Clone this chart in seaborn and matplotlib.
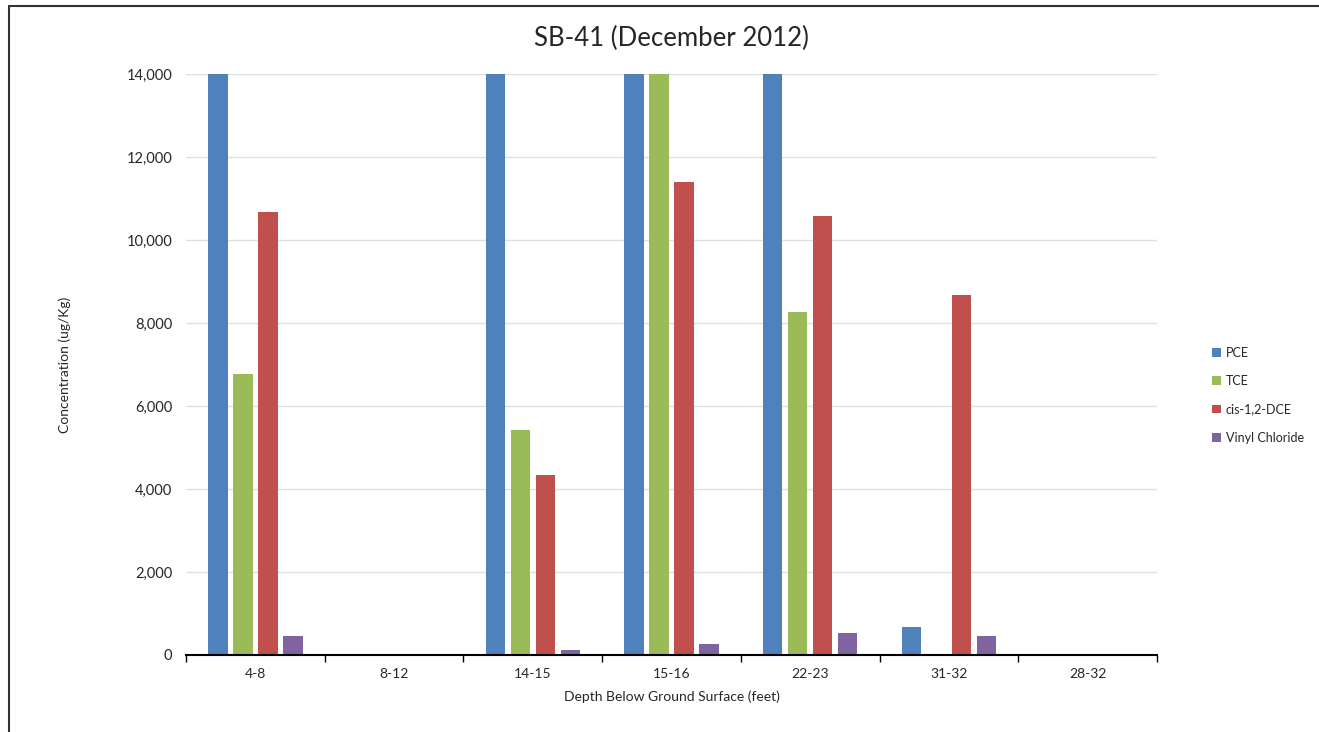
import pandas as pd
import matplotlib.pyplot as plt
import seaborn as sns
from matplotlib.lines import Line2D
from matplotlib.ticker import FuncFormatter

depths = ['4-8', '8-12', '14-15', '15-16', '22-23', '31-32', '28-32']
compounds = ['PCE', 'TCE', 'cis-1,2-DCE', 'Vinyl Chloride']
# values above 14,000 run off the top of the axis in the original
pce = [14000, 0, 14000, 14000, 14000, 670, 0]
tce = [6780, 0, 5430, 14000, 8270, 0, 0]
dce = [10680, 0, 4340, 11400, 10580, 8680, 0]
vinyl = [450, 0, 110, 270, 520, 450, 0]
colors = ['#4F81BD', '#9BBB59', '#C0504D', '#8064A2']

rows = []
for name, vals in zip(compounds, [pce, tce, dce, vinyl]):
    for d, v in zip(depths, vals):
        rows.append({'depth': d, 'compound': name, 'conc': v})
df = pd.DataFrame(rows)

sns.set_style('white')
plt.rcParams['font.family'] = ['Lato', 'DejaVu Sans']

fig = plt.figure(figsize=(13.19, 7.32), dpi=100)
ax = fig.add_axes([186 / 1319, 77 / 732, 971 / 1319, 581 / 732])

sns.barplot(data=df, x='depth', y='conc', hue='compound', order=depths,
            hue_order=compounds, palette=colors, width=0.72, gap=0.22,
            errorbar=None, ax=ax, linewidth=0, saturation=1)

ax.set_ylim(0, 14000)
ax.set_xlim(-0.5, len(depths) - 0.5)
ax.set_yticks(range(0, 14001, 2000))
ax.yaxis.set_major_formatter(FuncFormatter(lambda v, p: f'{int(v):,}'))
ax.grid(axis='y', color='#e0e0e0', linewidth=1)
ax.set_axisbelow(True)
for s in ['top', 'right', 'left']:
    ax.spines[s].set_visible(False)
ax.spines['bottom'].set_color('black')
ax.spines['bottom'].set_linewidth(1.5)
ax.set_xticks([i - 0.5 for i in range(len(depths) + 1)], minor=True)
ax.tick_params(axis='x', which='minor', length=5, width=1, color='black', bottom=True)
ax.tick_params(axis='x', which='major', length=0, labelsize=10, pad=9)
ax.tick_params(axis='y', length=0, labelsize=10.5, pad=10)

ax.set_title('SB-41 (December 2012)', fontsize=18.5, pad=20)
ax.set_xlabel('Depth Below Ground Surface (feet)', fontsize=10, labelpad=8)
ax.set_ylabel('Concentration (ug/Kg)', fontsize=10, labelpad=40)

handles, labels = ax.get_legend_handles_labels()
ax.legend(handles, labels, loc='center left', bbox_to_anchor=(1.045, 0.447),
          frameon=False, fontsize=9, handlelength=0.7, handleheight=0.7,
          handletextpad=0.4, labelspacing=1.3)

fig.add_artist(Line2D([9 / 1319, 9 / 1319], [0, 1 - 6 / 732], color='#333333', lw=1.5))
fig.add_artist(Line2D([9 / 1319, 1], [1 - 6 / 732, 1 - 6 / 732], color='#333333', lw=1.5))

fig.savefig('out.png', dpi=100)
